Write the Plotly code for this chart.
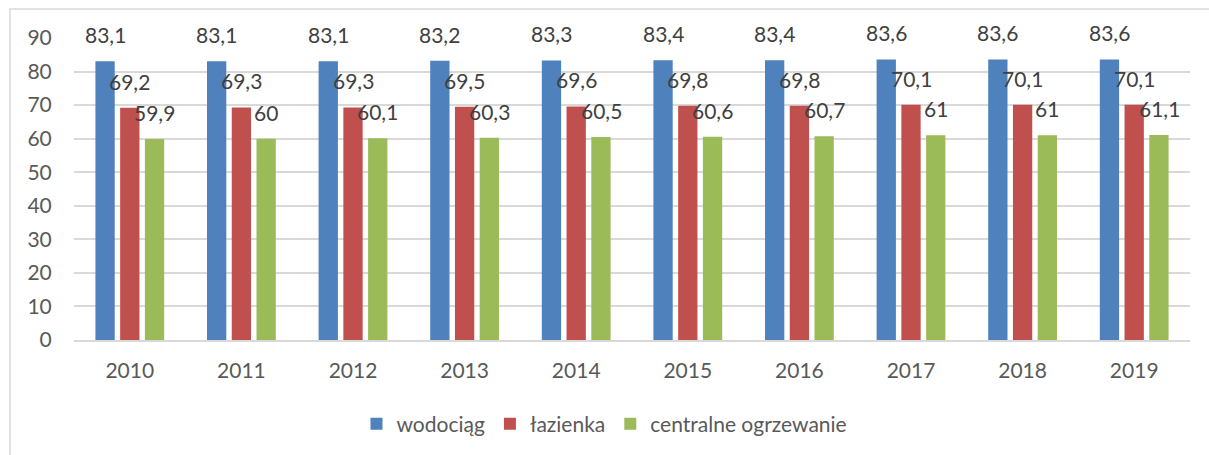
import plotly.graph_objects as go

years = ["2010", "2011", "2012", "2013", "2014", "2015", "2016", "2017", "2018", "2019"]
wodociag = [83.1, 83.1, 83.1, 83.2, 83.3, 83.4, 83.4, 83.6, 83.6, 83.6]
lazienka = [69.2, 69.3, 69.3, 69.5, 69.6, 69.8, 69.8, 70.1, 70.1, 70.1]
centralne = [59.9, 60, 60.1, 60.3, 60.5, 60.6, 60.7, 61, 61, 61.1]
y_ticks = [0, 10, 20, 30, 40, 50, 60, 70, 80, 90]

series = [
    ("wodociąg", wodociag, "#4f81bd"),
    ("łazienka", lazienka, "#c0504d"),
    ("centralne ogrzewanie", centralne, "#9bbb59"),
]

FONT = "Lato, Carlito, Calibri, sans-serif"
FS = 21


def fmt(v):
    return f"{v:g}".replace(".", ",")


fig = go.Figure()
annotations = []
slot_px = 24.8
for i, (name, vals, color) in enumerate(series):
    fig.add_trace(go.Bar(
        name=name, x=years, y=vals, marker=dict(color=color, line=dict(width=0)),
        hoverinfo="skip",
    ))
    for k, v in enumerate(vals):
        # category axis: annotation x is the category's serial index
        annotations.append(dict(
            x=k, y=v, xref="x", yref="y", text=fmt(v), showarrow=False,
            xanchor="center", yanchor="bottom", xshift=(i - 1) * slot_px, yshift=12,
            font=dict(family=FONT, size=FS, color="#404040"),
        ))

L, R, T, B = 74, 19, 38, 115
W, H = 1209, 455
pw, ph = W - L - R, H - T - B

fig.update_layout(
    width=W, height=H,
    margin=dict(l=L, r=R, t=T, b=B, pad=0),
    paper_bgcolor="white", plot_bgcolor="white",
    barmode="group", bargap=0.335, bargroupgap=0.22,
    font=dict(family=FONT, size=FS, color="#595959"),
    showlegend=True,
    legend=dict(orientation="h", xref="container", yref="container",
                x=0.5, xanchor="center", y=(H - 424) / H, yanchor="middle",
                font=dict(family=FONT, size=FS, color="#595959"),
                itemwidth=30, tracegroupgap=0, traceorder="normal"),
    annotations=annotations,
    shapes=[dict(type="rect", xref="paper", yref="paper",
                 x0=(10 - L) / pw, x1=(W + 10 - L) / pw,
                 y0=-(B + 10) / ph, y1=(T + ph - 9) / ph,
                 line=dict(color="#d9d9d9", width=1.5), layer="below")],
)
fig.update_xaxes(type="category", range=[-0.5, 9.5], showgrid=False, showline=True,
                 linecolor="#d9d9d9", linewidth=2,
                 ticks="outside", ticklen=11, tickcolor="rgba(0,0,0,0)",
                 tickfont=dict(family=FONT, size=FS, color="#595959"), fixedrange=True)
fig.update_yaxes(range=[0, 90], tickvals=y_ticks, showgrid=True, gridcolor="#d9d9d9", gridwidth=1.5,
                 zeroline=False, showline=False, ticks="outside", ticklen=17,
                 tickcolor="rgba(0,0,0,0)",
                 tickfont=dict(family=FONT, size=FS, color="#595959"), fixedrange=True)

fig.write_html("out.html", config={"displayModeBar": False},
               post_script="document.body.style.margin='0px';document.body.style.overflow='hidden';")
